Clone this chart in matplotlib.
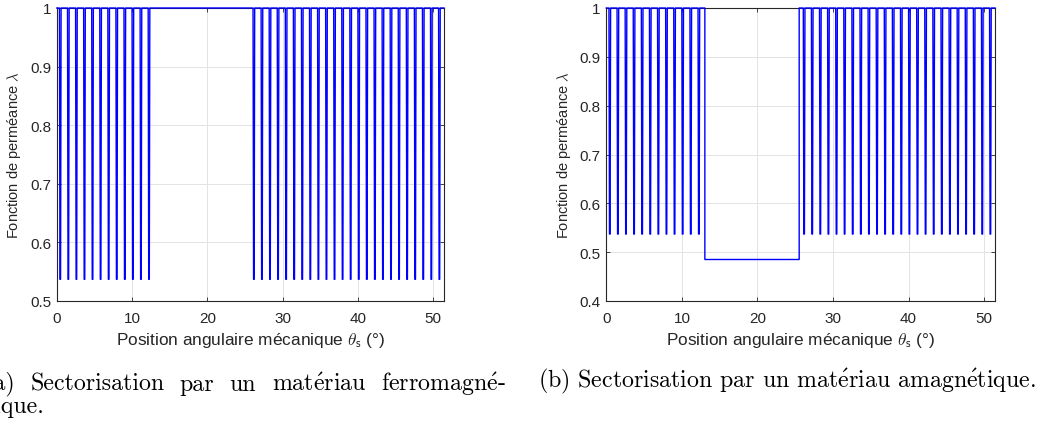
import numpy as np
import matplotlib
matplotlib.use("Agg")
import matplotlib.pyplot as plt
from matplotlib.ticker import FormatStrFormatter

# ---------------- data ----------------
sector_deg = 360 / 7                # x-axis span of one sector
slot_pitch_deg = 360 / 336          # 48 slot openings per sector
first_slot_deg = 0.46               # centre of first slot opening
slot_half_top = 0.11                # half width of a dip at lambda = 1
slot_half_bottom = 0.04             # half width of the flat bottom of a dip
slot_indices = list(range(0, 12)) + list(range(24, 48))   # slots present
lambda_tooth = 1.0
lambda_slot = 0.537
lambda_gap_b = 0.485                # amagnetic sector level
gap_b_start = 13.04
gap_b_end = 25.52

xticks = [0, 10, 20, 30, 40, 50]
yticks_a = [0.5, 0.6, 0.7, 0.8, 0.9, 1.0]
yticks_b = [0.4, 0.5, 0.6, 0.7, 0.8, 0.9, 1.0]

xlabel = r"Position angulaire mécanique $\theta_{\mathsf{s}}$ (°)"
ylabel = r"Fonction de perméance $\lambda$"


def build_wave(with_gap_level):
    xs = [0.0]
    ys = [lambda_tooth]
    for k in slot_indices:
        c = first_slot_deg + k * slot_pitch_deg
        if with_gap_level and k == 24:
            xs += [gap_b_start, gap_b_start, gap_b_end, gap_b_end]
            ys += [lambda_tooth, lambda_gap_b, lambda_gap_b, lambda_tooth]
        xs += [c - slot_half_top, c - slot_half_bottom, c + slot_half_bottom, c + slot_half_top]
        ys += [lambda_tooth, lambda_slot, lambda_slot, lambda_tooth]
    xs.append(sector_deg)
    ys.append(lambda_tooth)
    return np.array(xs), np.array(ys)


plt.rcParams["font.family"] = ["Liberation Sans", "DejaVu Sans"]
plt.rcParams["mathtext.fontset"] = "cm"

W, H = 1051, 427
fig = plt.figure(figsize=(W / 100, H / 100), dpi=100)

axcol = "#262626"
gridcol = "#e3e3e3"


def setup(ax, yticks, ylim):
    ax.set_xlim(0, sector_deg)
    ax.set_ylim(*ylim)
    ax.set_xticks(xticks)
    ax.set_yticks(yticks)
    ax.yaxis.set_major_formatter(FormatStrFormatter("%g"))
    ax.grid(True, color=gridcol, lw=0.7)
    ax.set_axisbelow(True)
    for s in ax.spines.values():
        s.set_color(axcol)
        s.set_linewidth(0.8)
    ax.tick_params(direction="in", length=3, width=0.6, colors=axcol,
                   top=True, right=True, labelsize=11)
    ax.tick_params(axis="x", pad=7)
    ax.tick_params(axis="y", pad=4)
    ax.set_xlabel(xlabel, fontsize=12.4, color=axcol, labelpad=4)
    ax.set_ylabel(ylabel, fontsize=10.5, color=axcol, labelpad=5)


# panel (a)
ax1 = fig.add_axes([56.8 / W, 1 - 302 / H, (444 - 56.8) / W, (302 - 9) / H])
xa, ya = build_wave(False)
ax1.plot(xa, ya, color=(0, 0, 1), lw=1.0, clip_on=False, zorder=3)
setup(ax1, yticks_a, (0.5, 1.0))

# panel (b)
ax2 = fig.add_axes([606.3 / W, 1 - 302 / H, (995 - 606.3) / W, (302 - 9) / H])
xb, yb = build_wave(True)
ax2.plot(xb, yb, color=(0, 0, 1), lw=1.0, clip_on=False, zorder=3)
setup(ax2, yticks_b, (0.4, 1.0))

# captions (serif, LaTeX-like; accents drawn with mathtext in Computer Modern)
E = r"$\mathrm{\acute{e}}$"
cap_font = dict(family=["cmr10", "DejaVu Serif"], fontsize=17.2, color="black")
yline1 = 1 - 384.5 / H
yline2 = 1 - 406.5 / H

# first caption line is justified: "(a)" ends at x=15 px, line ends at x=506 px
words_a = ["(a)", "Sectorisation", "par", "un", "mat" + E + "riau", "ferromagn" + E + "-"]
texts = [fig.text(0, yline1, w, ha="left", va="center", **cap_font) for w in words_a]
renderer = fig.canvas.get_renderer()
widths = [t.get_window_extent(renderer).width for t in texts]
line_start = 15 - widths[0]
line_end = 506
gap = (line_end - line_start - sum(widths)) / (len(words_a) - 1)
xpos = line_start
for t, w in zip(texts, widths):
    t.set_x(xpos / W)
    xpos += w + gap

fig.text(44 / W, yline2, "tique.", ha="right", va="center", **cap_font)
fig.text(538 / W, 1 - 381 / H,
         "(b) Sectorisation par un mat" + E + "riau amagn" + E + "tique.",
         ha="left", va="center", **cap_font)

fig.savefig("out.png", dpi=100)
